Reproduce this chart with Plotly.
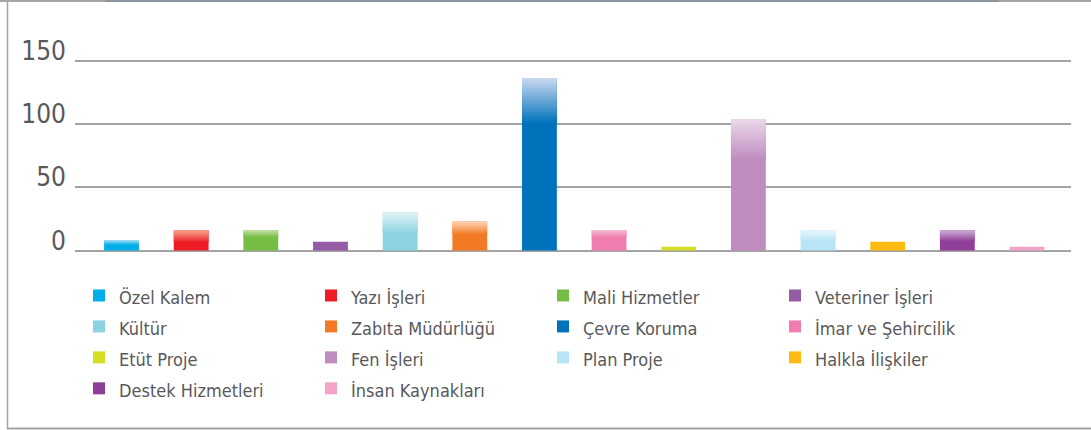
import plotly.graph_objects as go

# ---- data ----
categories = ["Özel Kalem", "Yazı İşleri", "Mali Hizmetler", "Veteriner İşleri",
              "Kültür", "Zabıta Müdürlüğü", "Çevre Koruma", "İmar ve Şehircilik",
              "Etüt Proje", "Fen İşleri", "Plan Proje", "Halkla İlişkiler",
              "Destek Hizmetleri", "İnsan Kaynakları"]
values = [8, 16, 16, 7, 30, 23, 136, 16, 3, 104, 16, 7, 16, 3]
y_ticks = [0, 50, 100, 150]

# ---- styling ----
main_colors = ["#00aee8", "#ed1c24", "#76bd43", "#955ba5", "#8bd3e2", "#f37a25",
               "#0072bc", "#f07db0", "#d4de25", "#c08bbf", "#b8e4f7", "#fdbb12",
               "#8f3f97", "#f3a4c9"]
light_colors = ["#a8dcf5", "#f5a98e", "#c7e1a9", "#955ba5", "#e2f2f6", "#fcd5b8",
                "#c9d8ef", "#f5bcd5", "#d4de25", "#ead9ea", "#e8f7fd", "#fdbb12",
                "#cdb0d5", "#f3a4c9"]
fade = [0.45, 0.6, 0.35, 0, 0.55, 0.45, 0.26, 0.35, 0, 0.31, 0.55, 0, 0.55, 0]
bar_w = 0.5

FONT = "DejaVu Sans Condensed, Liberation Sans Narrow, sans-serif"
TXT = "#58595b"

W, H = 1091, 430
L, R, T, B = 75, 20, 50, 170
pw, ph = W - L - R, H - T - B


def px_x(p):
    return (p - L) / pw


def px_y(p):
    return 1 - (p - T) / ph


fig = go.Figure()
xs = list(range(len(categories)))
for i, (c, v) in enumerate(zip(categories, values)):
    fig.add_trace(go.Bar(x=[xs[i]], y=[v],
                         name='<span style="font-size:18px">' + c + '</span>',
                         width=bar_w,
                         marker=dict(color=main_colors[i], line=dict(width=0)),
                         showlegend=True))

for i, v in enumerate(values):
    if fade[i] <= 0:
        continue
    ys = v * (1 - fade[i])
    x0, x1 = xs[i] - bar_w / 2, xs[i] + bar_w / 2
    fig.add_trace(go.Scatter(
        x=[x0, x1, x1, x0, x0], y=[ys, ys, v, v, ys],
        mode="lines", line=dict(width=0), fill="toself",
        fillgradient=dict(type="vertical",
                          colorscale=[[0, main_colors[i]], [1, light_colors[i]]],
                          start=ys, stop=v),
        showlegend=False, hoverinfo="skip"))

# frame lines
shapes = [
    dict(type="line", xref="paper", yref="paper", x0=px_x(7.5), x1=px_x(7.5),
         y0=px_y(0), y1=px_y(429), line=dict(color="#a3a3a3", width=1.5)),
    dict(type="line", xref="paper", yref="paper", x0=px_x(7), x1=px_x(1091),
         y0=px_y(428.5), y1=px_y(428.5), line=dict(color="#a3a3a3", width=2)),
    dict(type="line", xref="paper", yref="paper", x0=px_x(0), x1=px_x(105),
         y0=px_y(1), y1=px_y(1), line=dict(color="#a6a6a6", width=2)),
    dict(type="line", xref="paper", yref="paper", x0=px_x(105), x1=px_x(999),
         y0=px_y(1), y1=px_y(1), line=dict(color="#8a959e", width=2)),
    dict(type="line", xref="paper", yref="paper", x0=px_x(999), x1=px_x(1091),
         y0=px_y(1), y1=px_y(1), line=dict(color="#a6a6a6", width=2)),
]

fig.update_layout(
    width=W, height=H,
    margin=dict(l=L, r=R, t=T, b=B, autoexpand=False),
    paper_bgcolor="white", plot_bgcolor="white",
    barmode="overlay",
    showlegend=True,
    shapes=shapes,
    font=dict(family=FONT, color=TXT),
    xaxis=dict(range=[-0.668, 13.632], showticklabels=False, showgrid=False,
               zeroline=False, showline=False, ticks=""),
    yaxis=dict(range=[-7.52, 158.7], tickvals=y_ticks, showgrid=True,
               gridcolor="#a3a3a3", gridwidth=2, zeroline=False, showline=False,
               ticks="", tickfont=dict(family=FONT, size=26, color=TXT),
               ticklabelshift=-10, ticklabelstandoff=8),
    legend=dict(orientation="h", x=px_x(79), y=px_y(275), xanchor="left",
                yanchor="top", entrywidth=187, entrywidthmode="pixels",
                font=dict(family=FONT, size=21.5, color=TXT),
                bgcolor="rgba(0,0,0,0)", traceorder="normal"),
)

fig.write_html("out.html", config={"displayModeBar": False},
               post_script="document.body.style.margin='0';")
